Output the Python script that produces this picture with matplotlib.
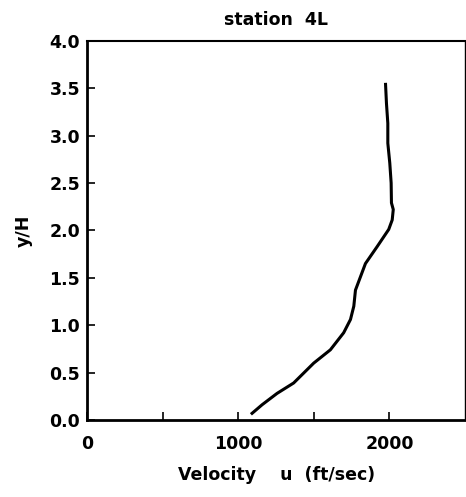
import matplotlib
matplotlib.use('Agg')
from matplotlib import pyplot as plt

# Perfil de velocidad, estacion 4L
velocidad = [1091, 1157, 1256, 1366, 1499, 1609, 1697, 1742, 1764, 1775,
             1808, 1841, 1919, 1995, 2018, 2025, 2013, 2011, 2002, 1989,
             1989, 1980, 1974]
y_h = [0.07, 0.16, 0.28, 0.39, 0.60, 0.74, 0.92, 1.06, 1.20, 1.37,
       1.51, 1.65, 1.83, 2.01, 2.11, 2.22, 2.29, 2.50, 2.71, 2.92,
       3.13, 3.34, 3.54]

x_ticks = [0, 500, 1000, 1500, 2000]
x_labels = ['0', '', '1000', '', '2000']
y_ticks = [0.0, 0.5, 1.0, 1.5, 2.0, 2.5, 3.0, 3.5, 4.0]

plt.rcParams['font.family'] = ['DejaVu Sans']
plt.rcParams['font.weight'] = 'bold'

fig = plt.figure(figsize=(4.66, 4.97), dpi=100)
ax = fig.add_axes([0.187, 0.155, 0.811, 0.763])

ax.plot(velocidad, y_h, color='black', linewidth=2.2)

ax.set_xlim(0, 2500)
ax.set_ylim(0, 4.0)
ax.set_xticks(x_ticks)
ax.set_xticklabels(x_labels)
ax.set_yticks(y_ticks)
ax.set_yticklabels(['%.1f' % v for v in y_ticks])
ax.tick_params(direction='in', length=6, width=1.2, labelsize=12.5)
ax.tick_params(axis='x', pad=11)
ax.tick_params(axis='y', pad=5)

for lado in ['left', 'bottom']:
    ax.spines[lado].set_linewidth(2)
ax.spines['top'].set_linewidth(1.5)
ax.spines['right'].set_linewidth(1)

ax.set_title('station  4L', fontsize=12.5, fontweight='bold', pad=11)
ax.set_xlabel('Velocity    u  (ft/sec)', fontsize=12.5, fontweight='bold', labelpad=9)
ax.set_ylabel('y/H', fontsize=12.5, fontweight='bold', labelpad=12)

fig.savefig('out.png', dpi=100)
